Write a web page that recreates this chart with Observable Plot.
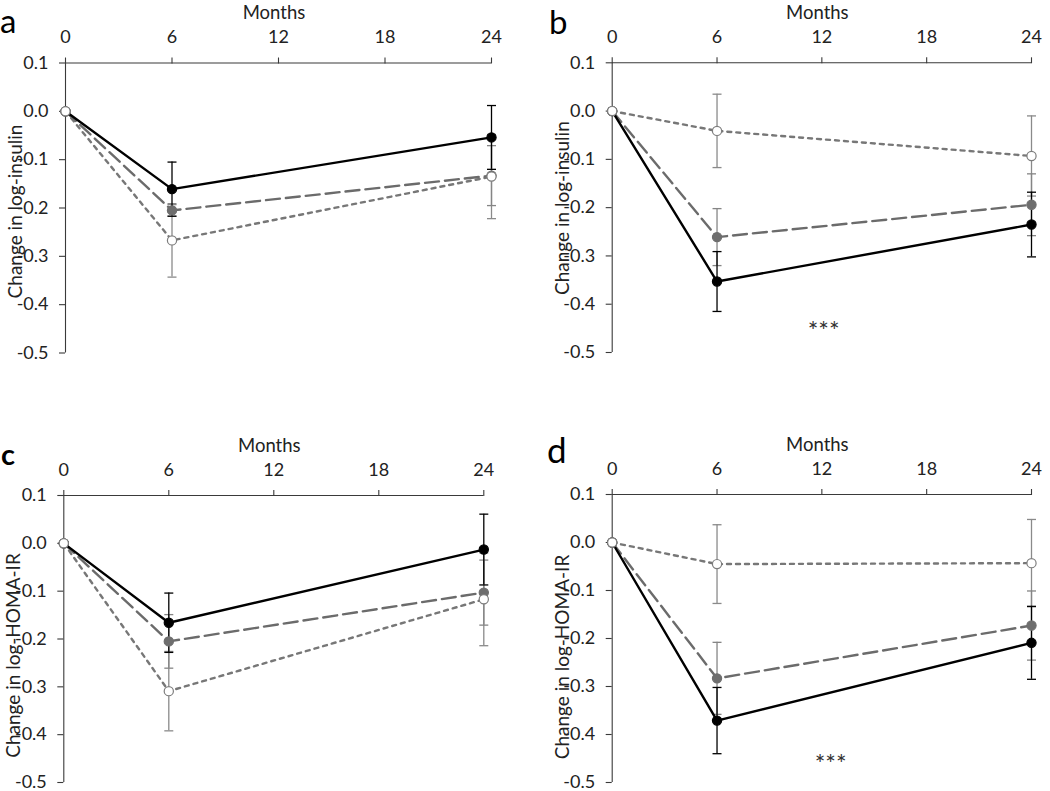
<!DOCTYPE html>
<html><head><meta charset="utf-8">
<script src="https://cdn.jsdelivr.net/npm/d3@7"></script>
<script src="https://cdn.jsdelivr.net/npm/@observablehq/plot@0.6"></script>
<style>
html,body{margin:0;padding:0;background:#fff;overflow:hidden;}
#root{position:relative;width:1050px;height:791px;}
.panel{position:absolute;}
svg.overlay{position:absolute;left:0;top:0;pointer-events:none;}
</style></head><body><div id="root"></div>
<script>
// ---- data ----
const months = [0, 6, 24];
const xTicks = [0, 6, 12, 18, 24];
const yTicks = [0.1, 0.0, -0.1, -0.2, -0.3, -0.4, -0.5];
const groups = ["Group 1", "Group 2", "Group 3"];   // solid, dashed, dotted
const panelLetters = ["a", "b", "c", "d"];
const yTitles = ["Change in log-insulin", "Change in log-insulin", "Change in log-HOMA-IR", "Change in log-HOMA-IR"];
const xTitle = "Months";

const aMean = [[0, -0.161, -0.054], [0, -0.205, -0.133], [0, -0.267, -0.135]];
const aErr  = [[0, 0.056, 0.066], [0, 0.012, 0.062], [0, 0.076, 0.087]];
const bMean = [[0, -0.353, -0.235], [0, -0.261, -0.194], [0, -0.041, -0.093]];
const bErr  = [[0, 0.062, 0.067], [0, 0.059, 0.064], [0, 0.076, 0.083]];
const cMean = [[0, -0.166, -0.013], [0, -0.205, -0.103], [0, -0.309, -0.117]];
const cErr  = [[0, 0.062, 0.074], [0, 0.056, 0.068], [0, 0.083, 0.097]];
const dMean = [[0, -0.371, -0.209], [0, -0.283, -0.173], [0, -0.045, -0.043]];
const dErr  = [[0, 0.069, 0.076], [0, 0.075, 0.072], [0, 0.082, 0.091]];

const starPanels = ["b", "d"];
const starMonths = [12.1, 12.5];
const starValues = [-0.445, -0.452];
const starText = "***";

// ---- styles / layout ----
const FONT = "Lato, 'Open Sans', sans-serif";
const groupStyles = [
  {line: "#000", dash: null, width: 2.4, fill: "#000", stroke: "#000", bar: "#000"},
  {line: "#6b6b6b", dash: "14,6", width: 2.4, fill: "#6e6e6e", stroke: "#6e6e6e", bar: "#858585"},
  {line: "#777", dash: "4,5", width: 2.4, fill: "#fff", stroke: "#7d7d7d", bar: "#8a8a8a"}
];
const layouts = [
  {left: 0,   top: 0,   width: 525, height: 362, mL: 65,   mR: 34,   mT: 62.5, mB: 9.5, titleShift: 4,  letter: {x: 0, y: 33, size: 33, weight: 400}},
  {left: 525, top: 0,   width: 525, height: 362, mL: 86.7, mR: 19,   mT: 62.3, mB: 10,  titleShift: 1,  letter: {x: 549, y: 34, size: 33, weight: 400}},
  {left: 0,   top: 432, width: 525, height: 358, mL: 63.3, mR: 41.7, mT: 63,   mB: 8,   titleShift: 17, letter: {x: 1, y: 465, size: 29, weight: 700}},
  {left: 525, top: 432, width: 525, height: 358, mL: 86.7, mR: 19,   mT: 62,   mB: 8,   titleShift: 19, letter: {x: 547, y: 463, size: 35, weight: 400}}
];
const means = [aMean, bMean, cMean, dMean];
const errs = [aErr, bErr, cErr, dErr];

function panelRows(mean, err) {
  const rows = [];
  groups.forEach((g, gi) => months.forEach((m, mi) => {
    const v = mean[gi][mi], e = err[gi][mi];
    rows.push({group: g, gi, month: m, value: v, err: e, lo: v - e, hi: v + e});
  }));
  return rows;
}

const capSymbol = {
  draw(context, size) {
    const r = Math.sqrt(size / Math.PI);
    context.moveTo(-r, 0);
    context.lineTo(r, 0);
  }
};

const root = document.getElementById("root");

layouts.forEach((L, pi) => {
  const rows = panelRows(means[pi], errs[pi]);
  const bars = rows.filter(d => d.err > 0);
  const marks = [
    Plot.ruleY([yTicks[0]], {stroke: "#3a3a3a", strokeWidth: 1.1}),
    Plot.ruleX([xTicks[0]], {stroke: "#3a3a3a", strokeWidth: 1.1}),
    Plot.axisX({anchor: "top", ticks: xTicks, tickSize: 6, tickPadding: 14, label: null,
      fontSize: 18, fill: "#222", stroke: "#3a3a3a", strokeWidth: 1.1}),
    Plot.axisY({anchor: "left", ticks: yTicks, tickSize: 6, tickPadding: 11, label: null,
      tickFormat: d => d.toFixed(1), fontSize: 18, fill: "#222", stroke: "#3a3a3a", strokeWidth: 1.1})
  ];
  // error bars (dotted group first so solid is on top)
  [2, 1, 0].forEach(gi => {
    const s = groupStyles[gi];
    const b = bars.filter(d => d.gi === gi);
    marks.push(Plot.ruleX(b, {x: "month", y1: "lo", y2: "hi", stroke: s.bar, strokeWidth: 1.3}));
    marks.push(Plot.dot(b, {x: "month", y: "lo", symbol: capSymbol, r: 4.5, stroke: s.bar, strokeWidth: 1.3, fill: "none"}));
    marks.push(Plot.dot(b, {x: "month", y: "hi", symbol: capSymbol, r: 4.5, stroke: s.bar, strokeWidth: 1.3, fill: "none"}));
  });
  [2, 1, 0].forEach(gi => {
    const s = groupStyles[gi];
    marks.push(Plot.line(rows.filter(d => d.gi === gi), {x: "month", y: "value", stroke: s.line,
      strokeWidth: s.width, strokeDasharray: s.dash, strokeLinejoin: "round"}));
  });
  [0, 1, 2].forEach(gi => {
    const s = groupStyles[gi];
    marks.push(Plot.dot(rows.filter(d => d.gi === gi), {x: "month", y: "value", r: 4.6,
      fill: s.fill, stroke: s.stroke, strokeWidth: 1.2}));
  });
  const si = starPanels.indexOf(panelLetters[pi]);
  if (si >= 0) {
    marks.push(Plot.text([{month: starMonths[si], value: starValues[si], t: starText}],
      {x: "month", y: "value", text: "t", fontSize: 25, fill: "#333", dy: 6}));
  }
  const chart = Plot.plot({
    width: L.width, height: L.height,
    marginLeft: L.mL, marginRight: L.mR, marginTop: L.mT, marginBottom: L.mB,
    x: {domain: [0, 24]},
    y: {domain: [-0.5, 0.1]},
    style: {fontFamily: FONT, fontSize: "18px", background: "transparent", overflow: "visible"},
    marks
  });
  chart.classList.add("panel");
  chart.style.left = L.left + "px";
  chart.style.top = L.top + "px";
  root.appendChild(chart);
});

// overlay texts: panel letters, "Months", y titles
const overlay = d3.create("svg").attr("class", "overlay").attr("width", 1050).attr("height", 791)
  .style("font-family", FONT);
layouts.forEach((L, pi) => {
  const x0 = L.left + L.mL, x1 = L.left + L.width - L.mR;
  const y0 = L.top + L.mT, y1 = L.top + L.height - L.mB;
  overlay.append("text").attr("x", L.letter.x).attr("y", L.letter.y)
    .attr("font-size", L.letter.size).attr("font-weight", L.letter.weight).attr("fill", "#000")
    .text(panelLetters[pi]);
  overlay.append("text").attr("x", (x0 + x1) / 2 - 4).attr("y", y0 - 43.5)
    .attr("text-anchor", "middle").attr("font-size", 18.5).attr("fill", "#222").text(xTitle);
  overlay.append("text")
    .attr("transform", `translate(${x0 - 43},${(y0 + y1) / 2 + L.titleShift}) rotate(-90)`)
    .attr("text-anchor", "middle").attr("font-size", 19).attr("fill", "#222").text(yTitles[pi]);
});
root.appendChild(overlay.node());
</script>
</body></html>
